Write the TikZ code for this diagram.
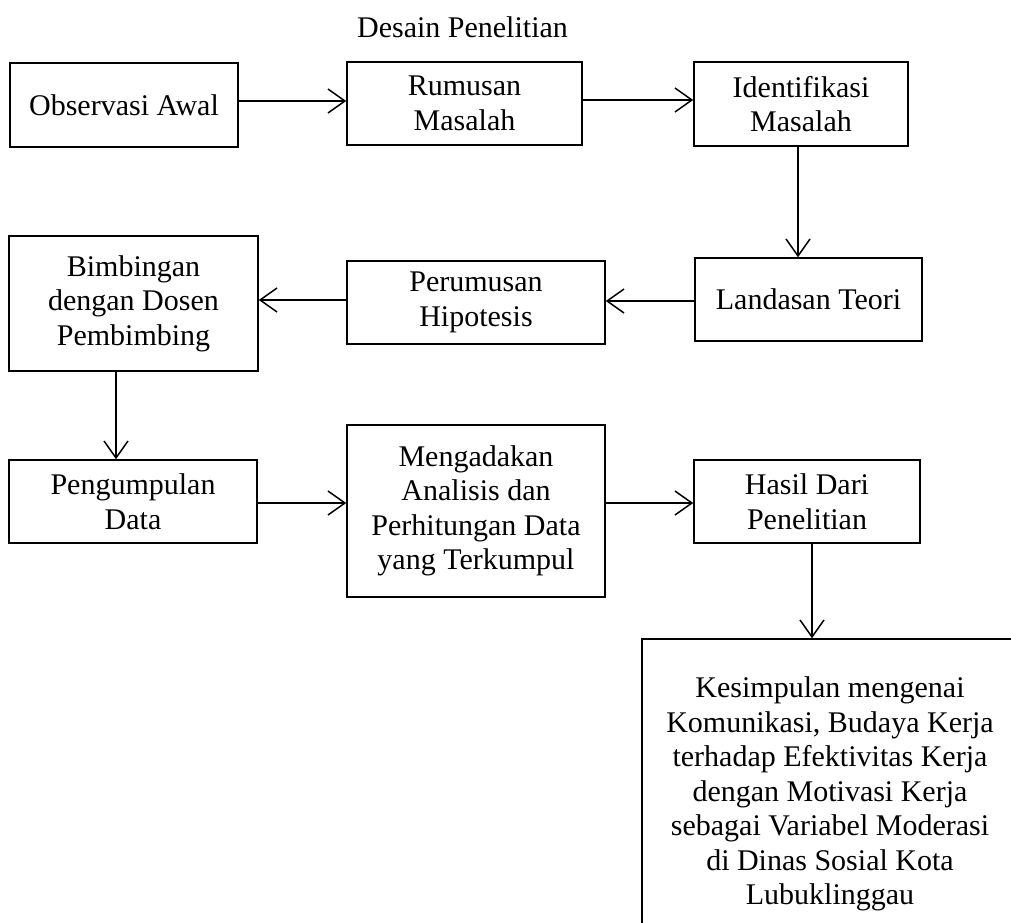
\documentclass[tikz,border=0pt]{standalone}
\usepackage{fontspec}
\setmainfont{Liberation Serif}
\usetikzlibrary{arrows.meta}
\begin{document}
\begin{tikzpicture}[x=1pt,y=-1pt,
  box/.style={draw, line width=1.5pt, align=center, inner sep=0pt,
    font=\fontsize{30}{34.5}\selectfont},
  arr/.style={line width=1.5pt,
    -{Straight Barb[length=17pt,width=24pt,line width=1.5pt]}}]
\useasboundingbox (0,0) rectangle (1011,922);
\clip (0,0) rectangle (1011,922);

% title
\node[anchor=base, font=\fontsize{30}{34.5}\selectfont] (title) at (462.5,37) {Desain Penelitian};

% first row
\node[box, minimum width=228pt, minimum height=84pt] (obs) at (124,105) {Observasi Awal};
\node[box, minimum width=235pt, minimum height=83pt] (rum) at (464.5,103.5) {Rumusan\\Masalah};
\node[box, minimum width=214pt, minimum height=84pt] (idn) at (801,104) {Identifikasi\\Masalah};

% second row
\node[box, minimum width=227pt, minimum height=83pt] (lan) at (808.5,299.5) {Landasan Teori};
\node[box, minimum width=258pt, minimum height=83pt] (per) at (476,302.5) {Perumusan\\Hipotesis};
\node[box, minimum width=249pt, minimum height=135pt] (bim) at (133.5,303.5) {Bimbingan\\dengan Dosen\\Pembimbing};

% third row
\node[box, minimum width=248pt, minimum height=83pt] (pen) at (133,501.5) {Pengumpulan\\Data};
\node[box, minimum width=258pt, minimum height=172pt] (men) at (476,511) {Mengadakan\\Analisis dan\\Perhitungan Data\\yang Terkumpul};
\node[box, minimum width=226pt, minimum height=83pt] (has) at (807,501.5) {Hasil Dari\\Penelitian};

% conclusion (runs past the right and bottom edges of the page)
\node[box, minimum width=376pt, minimum height=310pt] (kes) at (830,794) {Kesimpulan mengenai\\Komunikasi, Budaya Kerja\\terhadap Efektivitas Kerja\\dengan Motivasi Kerja\\sebagai Variabel Moderasi\\di Dinas Sosial Kota\\Lubuklinggau};

% connectors
\draw[arr] (obs.east |- 0,101) -- (rum.west |- 0,101);
\draw[arr] (rum.east |- 0,100) -- (idn.west |- 0,100);
\draw[arr] (idn.south -| 798,0) -- (lan.north -| 798,0);
\draw[arr] (lan.west |- 0,301) -- (per.east |- 0,301);
\draw[arr] (per.west |- 0,300) -- (bim.east |- 0,300);
\draw[arr] (bim.south -| 116,0) -- (pen.north -| 116,0);
\draw[arr] (pen.east |- 0,503) -- (men.west |- 0,503);
\draw[arr] (men.east |- 0,503) -- (has.west |- 0,503);
\draw[arr] (has.south -| 812,0) -- (kes.north -| 812,0);
\end{tikzpicture}
\end{document}
